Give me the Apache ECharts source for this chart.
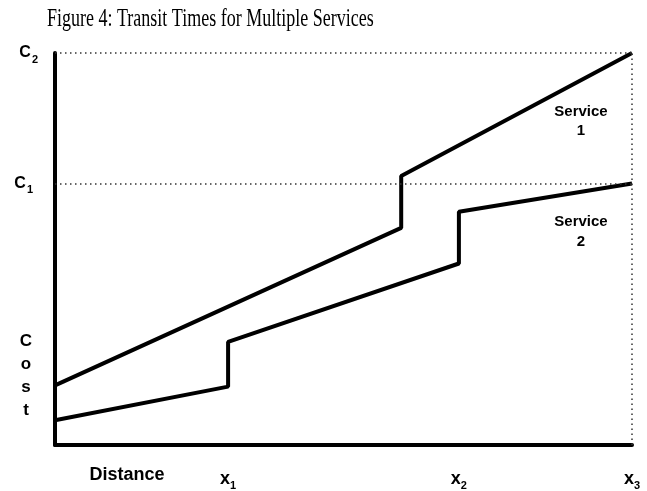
<!DOCTYPE html>
<html>
<head>
<meta charset="utf-8">
<script src="https://cdn.jsdelivr.net/npm/echarts@6/dist/echarts.min.js"></script>
<style>
  html, body { margin: 0; padding: 0; background: #fff; }
  #chart { width: 647px; height: 491px; }
</style>
</head>
<body>
<div id="chart"></div>
<script>
// data (distance 0..100 = origin..x3, cost 0..100 = axis..C2)
var distS1 = [0, 60, 60, 100]
var costS1 = [15.2, 55.4, 68.6, 100]
var distS2 = [0, 30, 30, 70, 70, 100]
var costS2 = [6.3, 14.9, 26.3, 46.3, 59.5, 66.7]

var xTicks = [30, 70, 100]
var xTickNames = ['1', '2', '3'] // x1, x2, x3
var yTicks = [66.7, 100]
var yTickNames = ['1', '2'] // C1, C2

var myChart = echarts.init(document.getElementById('chart'))

function pairs(xs, ys) {
  return xs.map(function (x, i) { return [x, ys[i]] })
}

var dotted = { color: '#333', width: 1.5, type: [1.5, 3.5] }

var option = {
  animation: false,
  grid: { left: 55, right: 15, top: 53, bottom: 43 },
  xAxis: {
    type: 'value',
    min: 0,
    max: 100,
    axisLine: { lineStyle: { color: '#000', width: 4 } },
    axisTick: { show: false },
    splitLine: { show: false },
    axisLabel: {
      customValues: xTicks,
      margin: 23,
      formatter: function (v) {
        var i = xTicks.indexOf(v)
        return '{b|x}{s|' + xTickNames[i] + '}'
      },
      rich: {
        b: { fontFamily: 'Liberation Sans', fontWeight: 'bold', fontSize: 18, color: '#000' },
        s: { fontFamily: 'Liberation Sans', fontWeight: 'bold', fontSize: 11, color: '#000', padding: [12, 0, 0, 0] }
      }
    }
  },
  yAxis: {
    type: 'value',
    min: 0,
    max: 100,
    axisLine: { show: true, lineStyle: { color: '#000', width: 4 } },
    axisTick: { show: false },
    splitLine: { show: false },
    axisLabel: {
      customValues: yTicks,
      margin: 17,
      formatter: function (v) {
        var i = yTicks.indexOf(v)
        return '{c|C}{s|' + yTickNames[i] + '}' + (i === 0 ? '{p|}' : '')
      },
      rich: {
        c: { fontFamily: 'Liberation Sans', fontWeight: 'bold', fontSize: 16, color: '#000' },
        s: { fontFamily: 'Liberation Sans', fontWeight: 'bold', fontSize: 11, color: '#000', padding: [13, 0, 0, 1] },
        p: { width: 5 }
      }
    }
  },
  series: [
    {
      name: 'Service 1',
      type: 'line',
      symbol: 'none',
      lineStyle: { color: '#000', width: 4 },
      data: pairs(distS1, costS1),
      markLine: {
        silent: true,
        symbol: ['none', 'none'],
        label: { show: false },
        lineStyle: dotted,
        data: [{ yAxis: yTicks[0] }, { yAxis: yTicks[1] }, { xAxis: xTicks[2] }]
      },
      z: 3
    },
    {
      name: 'Service 2',
      type: 'line',
      symbol: 'none',
      lineStyle: { color: '#000', width: 4 },
      data: pairs(distS2, costS2),
      z: 3
    }
  ],
  graphic: [
    {
      type: 'text',
      left: 47,
      top: 7,
      scaleX: 0.72,
      style: {
        text: 'Figure 4: Transit Times for Multiple Services',
        font: '25px "Liberation Serif"',
        fill: '#000'
      }
    },
    {
      type: 'text',
      x: 26,
      y: 330,
      style: {
        text: 'C\no\ns\nt',
        font: 'bold 17px "Liberation Sans"',
        lineHeight: 23,
        align: 'center',
        fill: '#000'
      }
    },
    {
      type: 'text',
      x: 127,
      y: 466,
      style: {
        text: 'Distance',
        font: 'bold 18px "Liberation Sans"',
        align: 'center',
        fill: '#000'
      }
    },
    {
      type: 'text',
      x: 581,
      y: 102,
      style: {
        text: 'Service\n1',
        font: 'bold 15px "Liberation Sans"',
        lineHeight: 19,
        align: 'center',
        fill: '#000'
      }
    },
    {
      type: 'text',
      x: 581,
      y: 212,
      style: {
        text: 'Service\n2',
        font: 'bold 15px "Liberation Sans"',
        lineHeight: 20,
        align: 'center',
        fill: '#000'
      }
    }
  ]
}

myChart.setOption(option)
</script>
</body>
</html>
